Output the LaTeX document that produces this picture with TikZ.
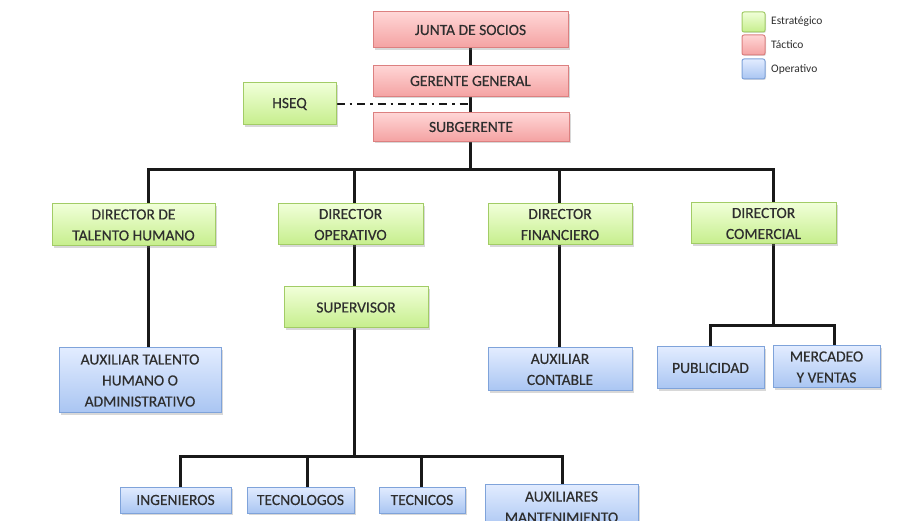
\documentclass[tikz,border=0pt]{standalone}
\usepackage{fontspec}
\setmainfont{Carlito}
\newfontfamily\boxfont{Carlito}[FakeBold=0.35]
\usetikzlibrary{shadows,backgrounds}
\definecolor{txt}{HTML}{2E2E2E}
\definecolor{gtop}{HTML}{F0FFD8}\definecolor{gbot}{HTML}{C6EE8C}\definecolor{gline}{HTML}{A2CC66}
\definecolor{rtop}{HTML}{FFD6D6}\definecolor{rbot}{HTML}{F4A2A2}\definecolor{rline}{HTML}{DC8080}
\definecolor{btop}{HTML}{E2ECFF}\definecolor{bbot}{HTML}{A9C5F2}\definecolor{bline}{HTML}{7FA3DA}
\tikzset{
  box/.style={draw, line width=1pt, inner sep=1pt, align=center, text=txt,
    font=\boxfont\fontsize{15.5}{21}\selectfont, shading angle=0,
    drop shadow={shadow xshift=1.5pt, shadow yshift=-1.8pt, opacity=0.3}},
  strat/.style={box, draw=gline, top color=gtop, bottom color=gbot},
  tact/.style={box, draw=rline, top color=rtop, bottom color=rbot},
  oper/.style={box, draw=bline, top color=btop, bottom color=bbot},
  link/.style={draw=black!90, line width=3pt},
  legsq/.style={draw, line width=1pt, rounded corners=2pt, minimum width=23pt, minimum height=20pt,
    drop shadow={shadow xshift=1pt, shadow yshift=-1pt, opacity=0.25}},
  legtxt/.style={anchor=west, text=txt, font=\fontsize{11.5}{13}\selectfont, inner sep=0pt}
}
\begin{document}
\begin{tikzpicture}[x=1pt,y=-1pt]
\clip (0,0) rectangle (911,521);

% top management
\node[tact, minimum width=195pt, minimum height=36pt] (junta) at (470.5,30) {JUNTA DE SOCIOS};
\node[tact, minimum width=195pt, minimum height=31pt] (gerente) at (470.5,81) {GERENTE GENERAL};
\node[tact, minimum width=196pt, minimum height=29pt] (sub) at (471,127) {SUBGERENTE};
\node[strat, minimum width=93pt, minimum height=42pt] (hseq) at (289.5,104) {HSEQ};

% directors
\node[strat, minimum width=163pt, minimum height=42pt] (dth) at (133.5,225) {DIRECTOR DE\\TALENTO HUMANO};
\node[strat, minimum width=145pt, minimum height=41pt] (dop) at (350.5,224.5) {DIRECTOR\\OPERATIVO};
\node[strat, minimum width=144pt, minimum height=41pt] (dfin) at (560,224.5) {DIRECTOR\\FINANCIERO};
\node[strat, minimum width=145pt, minimum height=41pt] (dcom) at (763.5,223.5) {DIRECTOR\\COMERCIAL};
\node[strat, minimum width=144pt, minimum height=41pt] (sup) at (356,307.5) {SUPERVISOR};

% operative staff
\node[oper, minimum width=162pt, minimum height=65pt] (auxth) at (140,380.5) {AUXILIAR TALENTO\\HUMANO O\\ADMINISTRATIVO};
\node[oper, minimum width=144pt, minimum height=43pt] (auxcont) at (560,369.5) {AUXILIAR\\CONTABLE};
\node[oper, minimum width=107pt, minimum height=42pt] (pub) at (710.5,368) {PUBLICIDAD};
\node[oper, minimum width=107pt, minimum height=42pt] (merc) at (826.5,367) {MERCADEO\\Y VENTAS};
\node[oper, minimum width=111pt, minimum height=26pt] (ing) at (175.5,500) {INGENIEROS};
\node[oper, minimum width=107pt, minimum height=26pt] (tecno) at (300.5,500) {TECNOLOGOS};
\node[oper, minimum width=86pt, minimum height=26pt] (tecni) at (422,500) {TECNICOS};
\node[oper, minimum width=153pt, minimum height=46pt, text depth=0pt] (auxm) at (561.5,507) {AUXILIARES\\MANTENIMIENTO};

% legend
\node[legsq, draw=gline, top color=gtop, bottom color=gbot] (lg) at (753.5,22) {};
\node[legsq, draw=rline, top color=rtop, bottom color=rbot] (lr) at (753.5,45) {};
\node[legsq, draw=bline, top color=btop, bottom color=bbot] (lb) at (753.5,69) {};
\node[legtxt] (tg) at (771,22) {Estratégico};
\node[legtxt] (tr) at (771,45) {Táctico};
\node[legtxt] (tb) at (771,69) {Operativo};

% connectors
\coordinate (bus) at (470,170);
\coordinate (c1) at (148,170);
\coordinate (c2) at (354,170);
\coordinate (c3) at (559,170);
\coordinate (c4) at (773,170);
\coordinate (obus) at (354,456);
\coordinate (cbus) at (773,326);
\coordinate (hj) at (470,104);
\begin{scope}[on background layer]
  \fill[white] (0,0) rectangle (911,521);
  \draw[link] (junta.south -| bus) -- (bus);
  \draw[link] (c1 |- dth.north) -- (c1) -- (c4) -- (c4 |- dcom.north);
  \draw[link] (c2) -- (c2 |- dop.north);
  \draw[link] (c3) -- (c3 |- dfin.north);
  \draw[link] (c1 |- dth.south) -- (c1 |- auxth.north);
  \draw[link] (c2 |- dop.south) -- (c2 |- sup.north);
  \draw[link] (c3 |- dfin.south) -- (c3 |- auxcont.north);
  \draw[link] (c2 |- sup.south) -- (obus);
  \coordinate (o1) at (180,456);
  \coordinate (o2) at (307,456);
  \coordinate (o3) at (421,456);
  \coordinate (o4) at (562,456);
  \draw[link] (o1 |- ing.north) -- (o1) -- (o4) -- (o4 |- auxm.north);
  \draw[link] (o2) -- (o2 |- tecno.north);
  \draw[link] (o3) -- (o3 |- tecni.north);
  \coordinate (p1) at (710,326);
  \coordinate (m1) at (834,326);
  \draw[link] (c4 |- dcom.south) -- (cbus);
  \draw[link] (p1 |- pub.north) -- (p1) -- (m1) -- (m1 |- merc.north);
  \draw[link, line width=2.6pt, dash pattern=on 8pt off 5pt on 2.5pt off 5pt] (hseq.east) -- (hj);
\end{scope}
\end{tikzpicture}
\end{document}
